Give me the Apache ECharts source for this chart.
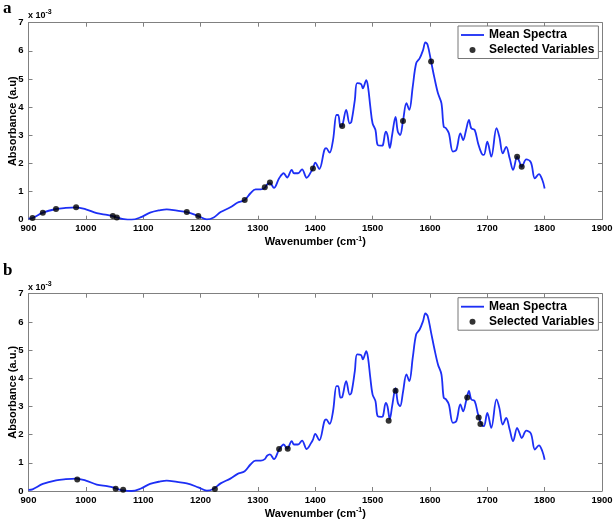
<!DOCTYPE html>
<html>
<head>
<meta charset="utf-8">
<script src="https://cdn.jsdelivr.net/npm/echarts@6/dist/echarts.min.js"></script>
<style>
html,body{margin:0;padding:0;background:#fff;}
#c{width:614px;height:522px;}
</style>
</head>
<body>
<div id="c"></div>
<script>
// Mean spectrum (absorbance in units of 1e-3)
var wavenumbers = [900,907,925,948,965,983,1000,1019,1037,1047,1054,1066,1080,1095,1112,1130,1141,1159,1176,1196,1211,1223,1235,1252,1264,1277,1287,1296,1305,1312,1316,1321,1328,1337,1345,1351,1359,1363,1370,1377,1385,1393,1396,1400,1407,1416,1419,1425,1431,1437,1440,1444,1447,1454,1460,1463,1469,1473,1480,1483,1489,1492,1496,1500,1505,1509,1515,1518,1523,1526,1530,1534,1540,1544,1548,1553,1559,1564,1570,1576,1582,1588,1592,1596,1602,1608,1614,1620,1624,1628,1633,1640,1646,1653,1658,1663,1668,1672,1678,1684,1690,1694,1700,1707,1716,1721,1727,1733,1739,1745,1752,1756,1760,1768,1776,1783,1790,1796,1800];
var absorbance = [0.04,0.06,0.25,0.38,0.42,0.44,0.37,0.23,0.17,0.13,0.08,0.02,0.00,0.08,0.25,0.34,0.37,0.32,0.27,0.13,0.01,0.08,0.27,0.44,0.60,0.70,0.94,1.08,1.08,1.13,1.25,1.30,1.13,1.47,1.65,1.50,1.77,1.65,1.65,1.79,1.49,1.71,1.82,2.03,1.80,2.48,2.54,2.38,2.83,3.72,3.72,3.31,3.33,3.90,3.42,3.48,4.25,4.85,4.82,4.67,4.96,4.73,4.02,3.42,3.19,2.65,2.63,2.65,3.13,3.00,2.55,3.00,3.65,3.13,3.01,3.51,4.14,3.90,4.73,5.56,5.73,6.03,6.30,6.21,5.62,5.02,4.49,4.14,3.31,3.25,3.07,2.42,2.48,3.07,2.83,3.19,3.55,3.25,3.19,2.71,2.36,2.30,2.77,2.24,3.25,2.95,2.36,2.59,2.18,1.77,2.24,2.06,1.88,2.14,2.04,1.47,1.62,1.41,1.11];

// Selected variables, panel a
var selA_w = [907,925,948,983,1047,1054,1176,1196,1277,1312,1321,1396,1447,1553,1602,1752,1760];
var selA_v = [0.06,0.25,0.38,0.44,0.13,0.08,0.27,0.13,0.70,1.15,1.32,1.82,3.33,3.51,5.62,2.24,1.88];
// Selected variables, panel b
var selB_w = [985,1052,1065,1225,1337,1352,1528,1540,1665,1685,1688];
var selB_v = [0.41,0.08,0.04,0.07,1.49,1.50,2.49,3.56,3.32,2.61,2.38];

var xTicks = [900,1000,1100,1200,1300,1400,1500,1600,1700,1800,1900];
var yTicks = [0,1,2,3,4,5,6,7];

function pairs(a,b){return a.map(function(v,i){return [v,b[i]];});}
var spec = pairs(wavenumbers, absorbance);

var axisGray = '#808080';
var FF = '"Liberation Sans", Arial, sans-serif';
var lblFont = {color:'#000', fontWeight:'bold', fontSize:9.5, fontFamily:FF};
var nameFont = {color:'#000', fontWeight:'bold', fontSize:11, fontFamily:FF};
var legFont = {color:'#000', fontWeight:'bold', fontSize:12, fontFamily:FF, lineHeight:13};

function xAx(grid, pos, showName){
  return {
    type:'value', gridIndex:grid, position:pos, min:xTicks[0], max:xTicks[xTicks.length-1], interval:100,
    axisLine:{show:true, onZero:false, lineStyle:{color:axisGray, width:1}},
    axisTick:{show:true, inside:true, length:4, lineStyle:{color:axisGray}},
    axisLabel:Object.assign({show:pos==='bottom', margin:4, formatter:function(v){return String(v);}}, lblFont),
    splitLine:{show:false},
    name: showName ? '{n|Wavenumber (cm}{s|-1}{n|)}' : '',
    nameLocation:'middle', nameGap:16,
    nameTextStyle:{rich:{n:nameFont, s:{color:'#000',fontWeight:'bold',fontSize:7,fontFamily:FF,verticalAlign:'top',padding:[0,0,6,0]}}}
  };
}
function yAx(grid, pos, name){
  return {
    type:'value', gridIndex:grid, position:pos, min:yTicks[0], max:yTicks[yTicks.length-1], interval:1,
    axisLine:{show:true, onZero:false, lineStyle:{color:axisGray, width:1}},
    axisTick:{show:true, inside:true, length:4, lineStyle:{color:axisGray}},
    axisLabel:Object.assign({show:pos==='left', margin:5, formatter:function(v){return String(v);}}, lblFont),
    splitLine:{show:false},
    name: name || '', nameLocation:'middle', nameGap:10, nameMoveOverlap:false, nameTextStyle:nameFont
  };
}
function legendAt(top){
  return {left:458, top:top, orient:'vertical',
    data:[{name:'Mean Spectra', icon:'path://M0 0H100V8H0Z'}, {name:'Selected Variables', icon:'circle'}],
    itemWidth:23, itemHeight:6, itemGap:2, itemTextGap:3,
    padding:[2.5,4,2,3], backgroundColor:'#fff', borderColor:'#777', borderWidth:1, borderRadius:0,
    textStyle:legFont, selectedMode:false};
}

var chart = echarts.init(document.getElementById('c'), null, {renderer:'canvas'});
var lineColor = '#1d2ff5';
chart.setOption({
  backgroundColor:'#fff',
  animation:false,
  grid:[
    {left:28.5, top:22.7, width:573.5, height:197, containLabel:false, outerBoundsMode:'none'},
    {left:28.5, top:293.7, width:573.5, height:197.3, containLabel:false, outerBoundsMode:'none'}
  ],
  xAxis:[xAx(0,'bottom',true), xAx(0,'top',false), xAx(1,'bottom',true), xAx(1,'top',false)],
  yAxis:[yAx(0,'left','Absorbance (a.u)'), yAx(0,'right'), yAx(1,'left','Absorbance (a.u.)'), yAx(1,'right')],
  legend:[legendAt(26), legendAt(297.7)],
  graphic:[
    {type:'text', left:3, top:0, style:{text:'a', font:'bold 17px "Liberation Serif", serif', fill:'#000'}},
    {type:'text', left:3, top:262, style:{text:'b', font:'bold 17px "Liberation Serif", serif', fill:'#000'}},
    {type:'text', left:28, top:9, style:{text:'{n|x 10}{s|-3}', rich:{n:{font:'bold 9px "Liberation Sans", Arial, sans-serif', fill:'#000'}, s:{font:'bold 7px "Liberation Sans", Arial, sans-serif', fill:'#000', padding:[0,0,6,0]}}}},
    {type:'text', left:28, top:281, style:{text:'{n|x 10}{s|-3}', rich:{n:{font:'bold 9px "Liberation Sans", Arial, sans-serif', fill:'#000'}, s:{font:'bold 7px "Liberation Sans", Arial, sans-serif', fill:'#000', padding:[0,0,6,0]}}}}
  ],
  series:[
    {name:'Mean Spectra', type:'line', xAxisIndex:0, yAxisIndex:0, data:spec, symbol:'none', smooth:0.35, lineStyle:{color:lineColor, width:1.8}, itemStyle:{color:lineColor}, z:2},
    {name:'Selected Variables', type:'scatter', xAxisIndex:0, yAxisIndex:0, data:pairs(selA_w, selA_v), symbol:'circle', symbolSize:6, itemStyle:{color:'#000'}, z:3},
    {name:'Mean Spectra', type:'line', xAxisIndex:2, yAxisIndex:2, data:spec, symbol:'none', smooth:0.35, lineStyle:{color:lineColor, width:1.8}, itemStyle:{color:lineColor}, z:2},
    {name:'Selected Variables', type:'scatter', xAxisIndex:2, yAxisIndex:2, data:pairs(selB_w, selB_v), symbol:'circle', symbolSize:6, itemStyle:{color:'#000'}, z:3}
  ]
});
</script>
</body>
</html>
